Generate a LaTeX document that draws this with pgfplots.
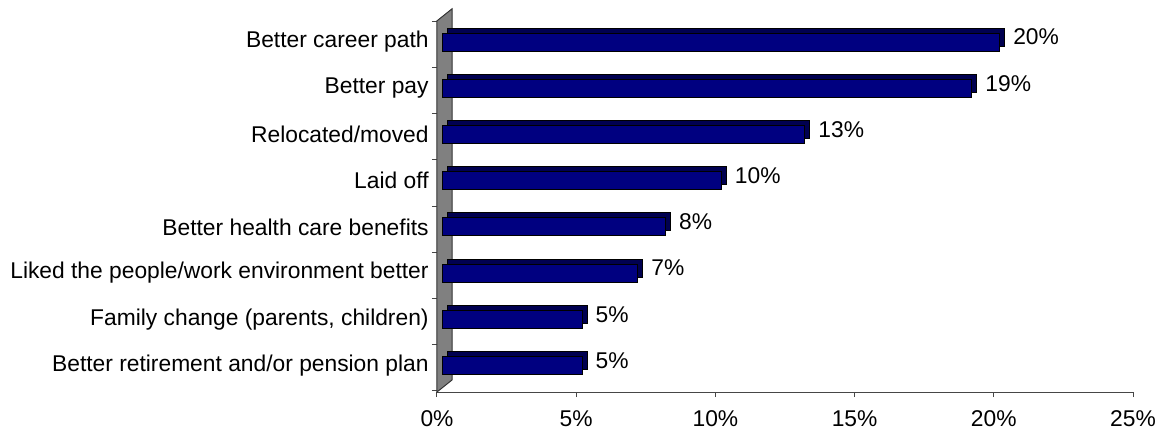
\documentclass[border=0pt]{standalone}
\usepackage{pgfplots}
\pgfplotsset{compat=1.18}
\usepackage{fontspec}
\setmainfont{Liberation Sans}
\definecolor{barfront}{RGB}{0,0,128}
\definecolor{bardepth}{RGB}{0,0,80}
\definecolor{wallgray}{RGB}{128,128,128}
\definecolor{axgray}{RGB}{70,70,70}
\begin{document}
\fontsize{11.4pt}{13.7pt}\selectfont
\begin{tikzpicture}
\path (-218.5pt,-21pt) rectangle (366.5pt,196pt);
\begin{axis}[
  at={(0pt,0pt)}, anchor=south west,
  scale only axis, width=348pt, height=186.5pt,
  xmin=0, xmax=25, ymin=-0.074, ymax=8,
  clip=false,
  /pgf/number format/assume math mode=true,
  separate axis lines,
  axis x line*=bottom, axis y line*=left,
  x axis line style={-, draw=axgray, line width=0.5pt},
  y axis line style={draw=none},
  tick align=outside,
  xtick={0,5,10,15,20,25},
  xticklabels={0\%,5\%,10\%,15\%,20\%,25\%},
  x tick style={draw=axgray, line width=0.5pt},
  major tick length=2.5pt,
  xticklabel style={font=\fontsize{11.4pt}{13.7pt}\selectfont, yshift=-3pt},
  ytick={0.5,1.5,2.5,3.5,4.5,5.5,6.5,7.5},
  yticklabels={Better retirement and/or pension plan,{Family change (parents, children)},Liked the people/work environment better,Better health care benefits,Laid off,Relocated/moved,Better pay,Better career path},
  y tick style={draw=none},
  yticklabel style={font=\fontsize{11.4pt}{13.7pt}\selectfont, inner sep=0pt, xshift=-1.5pt},
  extra y ticks={-0.05,0.95,1.95,2.95,3.95,4.95,5.95,6.95,7.95},
  extra y tick labels={},
  extra y tick style={y tick style={draw=axgray, line width=0.5pt}},
]
% back wall
\filldraw[fill=wallgray, draw=black!80, line width=0.5pt]
  (axis cs:0,-0.074) -- (axis cs:0,7.96) -- (axis cs:0.539,8.22) -- (axis cs:0.539,0.186) -- cycle;
% depth (top and side faces)
\addplot[xbar, bar width=9pt, bar shift=0pt, fill=bardepth, draw=black, line width=0.5pt,
  xshift=5.5pt, yshift=2.5pt]
  coordinates {(5,0.5) (5,1.5) (7,2.5) (8,3.5) (10,4.5) (13,5.5) (19,6.5) (20,7.5)};
% front faces
\addplot[xbar, bar width=9pt, bar shift=0pt, fill=barfront, draw=black, line width=0.5pt,
  xshift=3pt, point meta=x,
  nodes near coords={\pgfmathprintnumber[assume math mode=true]{\pgfplotspointmeta}\%},
  nodes near coords style={anchor=west, text=black, font=\fontsize{11.4pt}{13.7pt}\selectfont, xshift=2.7pt, yshift=2.5pt}]
  coordinates {(5,0.5) (5,1.5) (7,2.5) (8,3.5) (10,4.5) (13,5.5) (19,6.5) (20,7.5)};
\end{axis}
\end{tikzpicture}
\end{document}
